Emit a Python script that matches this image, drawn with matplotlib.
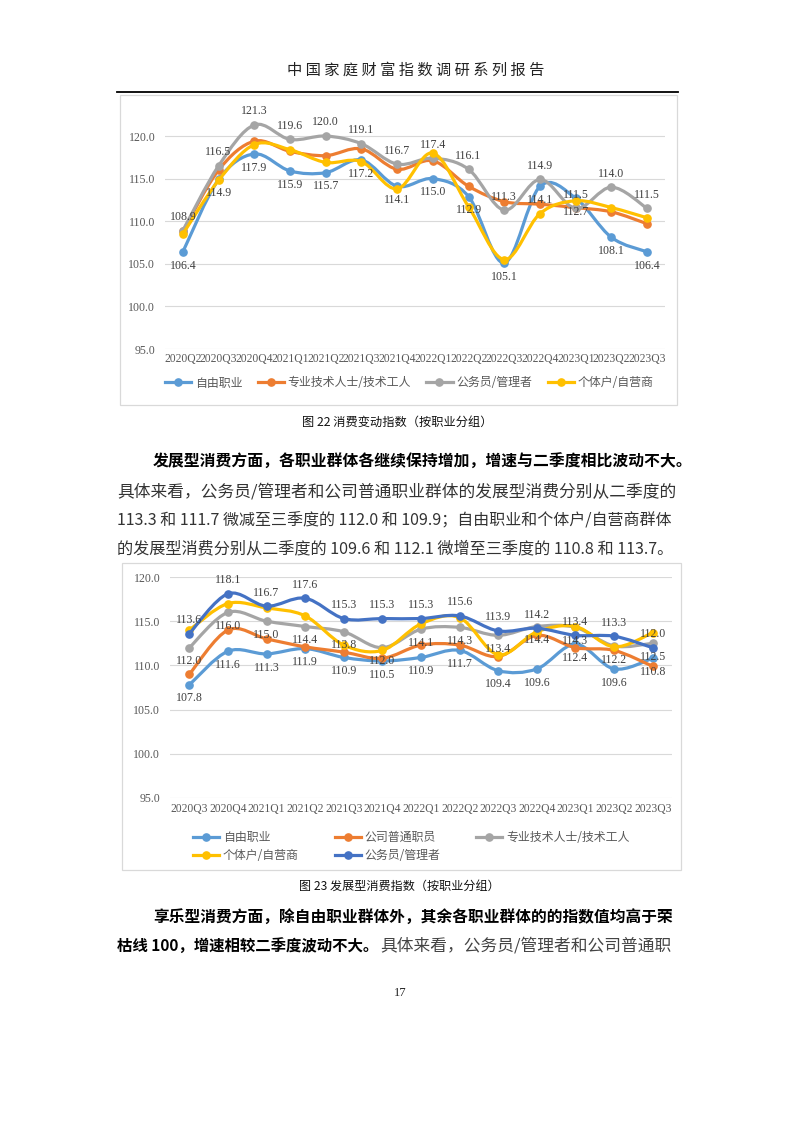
import numpy as np
import matplotlib
matplotlib.use('Agg')
import matplotlib.pyplot as plt
from matplotlib.path import Path
from matplotlib.patches import PathPatch, Rectangle
from matplotlib.lines import Line2D

# ---------------- data ----------------
c1_categories = ['2020Q2', '2020Q3', '2020Q4', '2021Q1', '2021Q2', '2021Q3', '2021Q4',
                 '2022Q1', '2022Q2', '2022Q3', '2022Q4', '2023Q1', '2023Q2', '2023Q3']
c1_free = [106.4, 114.9, 117.9, 115.9, 115.7, 117.2, 114.1, 115.0, 112.9, 105.1, 114.1, 112.7, 108.1, 106.4]
c1_prof = [108.8, 116.0, 119.4, 118.2, 117.7, 118.5, 116.1, 117.1, 114.1, 112.3, 112.0, 111.6, 111.1, 109.7]
c1_civil = [108.9, 116.5, 121.3, 119.6, 120.0, 119.1, 116.7, 117.4, 116.1, 111.3, 114.9, 111.5, 114.0, 111.5]
c1_self = [108.5, 114.8, 119.0, 118.4, 116.9, 117.0, 113.8, 118.0, 111.7, 105.5, 110.9, 112.4, 111.6, 110.4]
c1_names = ['自由职业', '专业技术人士/技术工人', '公务员/管理者', '个体户/自营商']

c2_categories = ['2020Q3', '2020Q4', '2021Q1', '2021Q2', '2021Q3', '2021Q4', '2022Q1',
                 '2022Q2', '2022Q3', '2022Q4', '2023Q1', '2023Q2', '2023Q3']
c2_free = [107.8, 111.6, 111.3, 111.9, 110.9, 110.5, 110.9, 111.7, 109.4, 109.6, 112.4, 109.6, 110.8]
c2_staff = [109.0, 114.0, 113.0, 112.1, 111.5, 110.8, 112.3, 112.3, 111.0, 113.4, 112.0, 111.7, 109.9]
c2_prof = [112.0, 116.0, 115.0, 114.4, 113.8, 112.0, 114.1, 114.3, 113.4, 114.4, 114.3, 112.2, 112.5]
c2_self = [114.0, 117.0, 116.5, 115.6, 112.3, 111.7, 114.7, 115.4, 111.2, 113.8, 114.4, 112.1, 113.7]
c2_civil = [113.6, 118.1, 116.7, 117.6, 115.3, 115.3, 115.3, 115.6, 113.9, 114.2, 113.4, 113.3, 112.0]
c2_names = ['自由职业', '公司普通职员', '专业技术人士/技术工人', '个体户/自营商', '公务员/管理者']

yticks = [95.0, 100.0, 105.0, 110.0, 115.0, 120.0]

C_BLUE = '#5B9BD5'
C_ORANGE = '#ED7D31'
C_GRAY = '#A5A5A5'
C_YELLOW = '#FFC000'
C_DBLUE = '#4472C4'

# ---------------- page ----------------
W, H = 793, 1122
fig = plt.figure(figsize=(W / 100, H / 100), dpi=100)
fig.patch.set_facecolor('white')
CJK = ['Noto Sans CJK SC', 'DejaVu Sans']
SERIF = ['Liberation Serif', 'DejaVu Serif']
renderer = fig.canvas.get_renderer()


def fx(px):
    return px / W


def fy(py):
    return 1 - py / H


def fit_text(x, y, s, width, size=12, ha='left', **kw):
    t = fig.text(fx(x), fy(y), s, fontsize=size, ha=ha, va='center', **kw)
    bb = t.get_window_extent(renderer=renderer)
    t.set_fontsize(size * width / bb.width)
    return t


def smooth_path(xs, ys):
    pts = np.column_stack([xs, ys]).astype(float)
    n = len(pts)
    verts = [pts[0]]
    codes = [Path.MOVETO]
    for i in range(n - 1):
        p0 = pts[i - 1] if i > 0 else pts[i]
        p1 = pts[i]
        p2 = pts[i + 1]
        p3 = pts[i + 2] if i + 2 < n else pts[i + 1]
        verts += [p1 + (p2 - p0) / 6.0, p2 - (p3 - p1) / 6.0, p2]
        codes += [Path.CURVE4] * 3
    return Path(verts, codes)


def draw_series(ax, ys, color, z):
    xs = np.arange(len(ys))
    ax.add_patch(PathPatch(smooth_path(xs, ys), fill=False, ec=color, lw=2.3,
                           capstyle='round', joinstyle='round', clip_on=False, zorder=z))
    ax.plot(xs, ys, 'o', color=color, ms=5.2, clip_on=False, zorder=z + 0.5)


def labels(ax, ys, where):
    for i, v in enumerate(ys):
        if where == 'above':
            ax.annotate(f'{v:.1f}', (i, v), xytext=(0, 5.5), textcoords='offset points',
                        ha='center', va='bottom', fontsize=8.6, family=SERIF,
                        color='#404040', zorder=20, annotation_clip=False)
        else:
            ax.annotate(f'{v:.1f}', (i, v), xytext=(0, -5.5), textcoords='offset points',
                        ha='center', va='top', fontsize=8.6, family=SERIF,
                        color='#404040', zorder=20, annotation_clip=False)


def style_axes(ax, cats, ymin, ymax, ypad, xpad):
    ax.set_xlim(-0.5, len(cats) - 0.5)
    ax.set_ylim(ymin, ymax)
    ax.set_yticks(yticks)
    ax.set_yticklabels([f'{t:.1f}' for t in yticks], family=SERIF, fontsize=8.6, color='#595959')
    ax.set_xticks(range(len(cats)))
    ax.set_xticklabels(cats, family=SERIF, fontsize=8.4, color='#595959')
    ax.tick_params(length=0)
    ax.tick_params(axis='y', pad=ypad)
    ax.tick_params(axis='x', pad=xpad)
    for s in ax.spines.values():
        s.set_visible(False)
    ax.yaxis.grid(True, color='#D9D9D9', lw=0.8)
    ax.set_axisbelow(True)
    ax.patch.set_alpha(0)


# header
fit_text(416, 70, '中 国 家 庭 财 富 指 数 调 研 系 列 报 告', 258, ha='center', family=CJK, color='#222222')
fig.add_artist(Line2D([fx(117), fx(678)], [fy(92), fy(92)], color='black', lw=1.3,
                      transform=fig.transFigure))

# chart boxes
fig.add_artist(Rectangle((fx(120), fy(405)), (677 - 120) / W, (405 - 95) / H, fill=False,
                         ec='#D9D9D9', lw=0.9, transform=fig.transFigure))
fig.add_artist(Rectangle((fx(122), fy(870)), (681 - 122) / W, (870 - 563) / H, fill=False,
                         ec='#D9D9D9', lw=0.9, transform=fig.transFigure))

# ---------------- chart 1 ----------------
ax1 = fig.add_axes([fx(165), fy(349), (665 - 165) / W, (349 - 119) / H])
style_axes(ax1, c1_categories, 95, 122, 7, 3)
draw_series(ax1, c1_free, C_BLUE, 3)
draw_series(ax1, c1_prof, C_ORANGE, 4)
draw_series(ax1, c1_civil, C_GRAY, 5)
draw_series(ax1, c1_self, C_YELLOW, 6)
labels(ax1, c1_civil, 'above')
labels(ax1, c1_free, 'below')

h1 = [Line2D([], [], color=c, lw=2.3, marker='o', ms=5.2) for c in (C_BLUE, C_ORANGE, C_GRAY, C_YELLOW)]
fig.legend(h1, c1_names, loc='center', bbox_to_anchor=(fx(409), fy(383)), ncol=4, frameon=False,
           prop={'family': CJK, 'size': 8.6}, labelcolor='#595959', handlelength=2.2,
           handletextpad=0.3, columnspacing=1.3, numpoints=1, borderpad=0, borderaxespad=0)

fit_text(397, 422, '图 22 消费变动指数（按职业分组）', 190, ha='center', family=CJK, color='#111111')

# text block 1
fit_text(153, 462, '发展型消费方面，各职业群体各继续保持增加，增速与二季度相比波动不大。', 537,
         family=CJK, weight='bold', color='black')
fit_text(117, 492, '具体来看，公务员/管理者和公司普通职业群体的发展型消费分别从二季度的', 556,
         family=CJK, color='#333333')
fit_text(117, 521, '113.3 和 111.7 微减至三季度的 112.0 和 109.9；自由职业和个体户/自营商群体', 556,
         family=CJK, color='#333333')
fit_text(117, 549, '的发展型消费分别从二季度的 109.6 和 112.1 微增至三季度的 110.8 和 113.7。', 559,
         family=CJK, color='#333333')

# ---------------- chart 2 ----------------
ax2 = fig.add_axes([fx(170), fy(798), (672 - 170) / W, (798 - 577) / H])
style_axes(ax2, c2_categories, 95, 120, 7, 3.5)
draw_series(ax2, c2_free, C_BLUE, 3)
draw_series(ax2, c2_staff, C_ORANGE, 4)
draw_series(ax2, c2_prof, C_GRAY, 5)
draw_series(ax2, c2_self, C_YELLOW, 6)
draw_series(ax2, c2_civil, C_DBLUE, 7)
labels(ax2, c2_civil, 'above')
labels(ax2, c2_prof, 'below')
labels(ax2, c2_free, 'below')

cols2 = [C_BLUE, C_ORANGE, C_GRAY, C_YELLOW, C_DBLUE]
h2 = [Line2D([], [], color=c, lw=2.3, marker='o', ms=5.2) for c in cols2]
order = [0, 3, 1, 4, 2]
fig.legend([h2[i] for i in order], [c2_names[i] for i in order], loc='center left',
           bbox_to_anchor=(fx(193), fy(846.5)), ncol=3, frameon=False,
           prop={'family': CJK, 'size': 8.6}, labelcolor='#595959', handlelength=2.2,
           handletextpad=0.3, columnspacing=3.0, labelspacing=0.45, numpoints=1,
           borderpad=0, borderaxespad=0)

fit_text(399, 886, '图 23 发展型消费指数（按职业分组）', 200, ha='center', family=CJK, color='#111111')

# text block 2
fit_text(153, 917, '享乐型消费方面，除自由职业群体外，其余各职业群体的的指数值均高于荣', 517,
         family=CJK, weight='bold', color='black')
tb = fit_text(117, 946, '枯线 100，增速相较二季度波动不大。', 262, family=CJK, weight='bold', color='black')
fit_text(380, 946, '具体来看，公务员/管理者和公司普通职', 290, family=CJK, color='#444444')

fig.text(fx(400), fy(993), '17', ha='center', va='center', fontsize=9, family=SERIF, color='#222222')

fig.savefig('out.png', dpi=100, facecolor='white')
